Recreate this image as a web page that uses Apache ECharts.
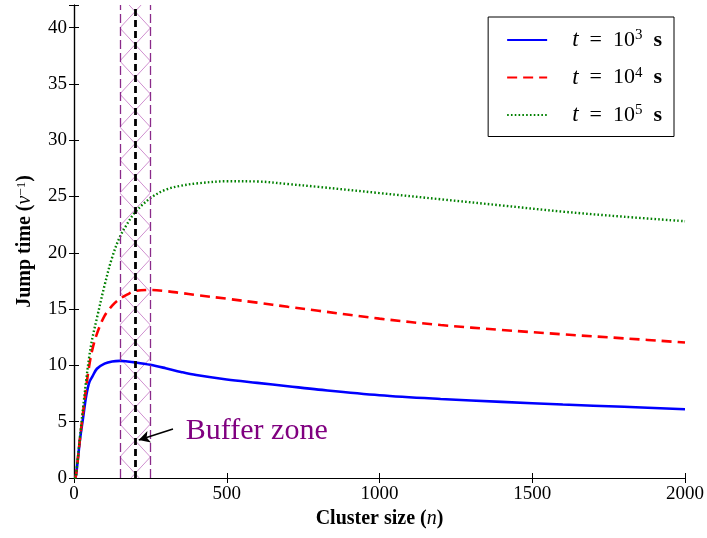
<!DOCTYPE html>
<html>
<head>
<meta charset="utf-8">
<script src="https://cdn.jsdelivr.net/npm/echarts@6/dist/echarts.min.js"></script>
<style>html,body{margin:0;padding:0;background:#fff}#c{width:707px;height:538px}</style>
</head>
<body>
<div id="c"></div>
<script>
const nValues = [0,5,10,20,30,40,50,60,75,100,125,150,175,200,250,300,350,400,500,600,700,800,1000,1200,1400,1600,1800,2000];
const jumpT3 = [0,0.05,1.0,3.5,5.4,7.3,8.5,9.0,9.7,10.15,10.35,10.4,10.35,10.27,10.05,9.75,9.42,9.14,8.75,8.45,8.15,7.85,7.35,7.02,6.76,6.52,6.32,6.11];
const jumpT4 = [0,0.05,1.0,3.6,5.9,8.1,10.0,11.4,12.8,14.4,15.3,15.9,16.3,16.6,16.7,16.6,16.43,16.25,15.92,15.57,15.2,14.85,14.15,13.58,13.15,12.76,12.4,12.03];
const jumpT5 = [0,0.05,1.1,3.8,6.3,8.7,10.8,12.4,14.2,17.1,19.6,21.4,22.6,23.6,24.85,25.6,25.95,26.15,26.35,26.33,26.1,25.85,25.3,24.75,24.2,23.65,23.2,22.8];
const seriesNames = ['t = 10^3 s','t = 10^4 s','t = 10^5 s'];
const seriesExps = ['3','4','5'];
const xTicks = [0,500,1000,1500,2000];
const yTicks = [0,5,10,15,20,25,30,35,40];
const bufferZone = [150, 250];
const bufferCenter = 200;
const arrowFrom = [324, 4.35];
const arrowTo = [212, 3.37];
const bufferLabelAt = [366, 4.2];

const FONT = 'Liberation Serif';
const pairs = ys => nValues.map((n,i)=>[n, ys[i]]);

const chart = echarts.init(document.getElementById('c'), null, {renderer:'canvas'});

function axisCommon(extra){
  return Object.assign({
    type:'value',
    axisLine:{show:true, lineStyle:{color:'#000', width:1.2}},
    axisTick:{show:true, inside:true, length:5, lineStyle:{color:'#000', width:1}},
    splitLine:{show:false},
  }, extra);
}

function buildOption(hatch){
  const lineBase = {type:'line', smooth:0.35, symbol:'none', showSymbol:false, z:3, animation:false};
  const arrowStyle = {color:'#000', width:1.6, type:'solid', curveness:-0.5};
  return {
    animation:false,
    backgroundColor:'#fff',
    grid:{left:74, right:21, top:5, bottom:60},
    xAxis:[
      axisCommon({min:0, max:2000, interval:500, position:'bottom',
        axisLabel:{color:'#000', fontFamily:FONT, fontSize:19, margin:7,
          formatter:v=> xTicks.includes(v)? String(v):''},
        name:'Cluster size ({i|n})', nameLocation:'middle', nameGap:24,
        nameTextStyle:{color:'#000', fontFamily:FONT, fontSize:20, fontWeight:'bold',
          rich:{i:{fontFamily:FONT, fontSize:20, fontStyle:'italic', fontWeight:'normal', color:'#000'}}}
      }),
      axisCommon({min:0, max:2000, interval:500, position:'top', axisLabel:{show:false}})
    ],
    yAxis:[
      axisCommon({min:0, max:42, interval:5, position:'left',
        axisLabel:{color:'#000', fontFamily:FONT, fontSize:19, margin:7,
          formatter:v=> yTicks.includes(v)? String(v):''},
        name:'Jump time ({i|ν}{s|−1})', nameLocation:'middle', nameGap:39,
        nameTextStyle:{color:'#000', fontFamily:FONT, fontSize:20, fontWeight:'bold',
          rich:{i:{fontFamily:FONT, fontSize:20, fontStyle:'italic', fontWeight:'normal', color:'#000'},
                s:{fontFamily:FONT, fontSize:13, fontWeight:'normal', color:'#000', verticalAlign:'top', lineHeight:14}}}
      }),
      axisCommon({min:0, max:42, interval:5, position:'right', axisLabel:{show:false}})
    ],
    legend:{
      data:seriesNames, orient:'vertical', right:33, top:17,
      itemWidth:40, itemHeight:14, itemGap:14,
      padding:[11,12,10,18],
      borderColor:'#000', borderWidth:1, borderRadius:0,
      backgroundColor:'#fff',
      itemStyle:{opacity:0},
      formatter:name=>{
        const e = seriesExps[seriesNames.indexOf(name)];
        return '{i|t}{r|  =  10}{s|'+e+'}{r|  }{b|s}';
      },
      textStyle:{color:'#000', fontFamily:FONT, fontSize:22,
        rich:{
          i:{fontFamily:FONT, fontSize:23, fontStyle:'italic', color:'#000', padding:[0,0,0,20], lineHeight:24},
          r:{fontFamily:FONT, fontSize:22, color:'#000', lineHeight:24},
          s:{fontFamily:FONT, fontSize:15, color:'#000', verticalAlign:'top', lineHeight:14},
          b:{fontFamily:FONT, fontSize:22, fontWeight:'bold', color:'#000', lineHeight:24}
        }}
    },
    series:[
      {type:'line', name:'buffer', data:[], z:1, silent:true,
        markArea:{silent:true, itemStyle:{color: hatch || 'rgba(0,0,0,0)', borderWidth:0},
          data:[[{xAxis:bufferZone[0]},{xAxis:bufferZone[1]}]]}
      },
      Object.assign({}, lineBase, {name:seriesNames[0], data:pairs(jumpT3),
        lineStyle:{color:'#0000ff', width:2.6}, itemStyle:{color:'#0000ff'}}),
      Object.assign({}, lineBase, {name:seriesNames[1], data:pairs(jumpT4),
        lineStyle:{color:'#ff0000', width:2.6, type:[10,6], cap:'butt'}, itemStyle:{color:'#ff0000'}}),
      Object.assign({}, lineBase, {name:seriesNames[2], data:pairs(jumpT5),
        lineStyle:{color:'#008000', width:2.4, type:[1.6,2.2], cap:'butt'}, itemStyle:{color:'#008000'}}),
      {type:'line', name:'markers', data:[], z:4, silent:true,
        markLine:{silent:true, symbol:['none','none'], label:{show:false},
          data:[
            {xAxis:bufferZone[0], lineStyle:{color:'#8a2a8a', width:1.3, type:[9,4]}},
            {xAxis:bufferZone[1], lineStyle:{color:'#8a2a8a', width:1.3, type:[9,4]}},
            {xAxis:bufferCenter, lineStyle:{color:'#000', width:2.8, type:[7,4]}}
          ]}
      },
      {type:'line', name:'arrow', data:[], z:5, silent:true,
        markLine:{silent:true, symbol:['none','arrow'], symbolSize:[9,11], label:{show:false},
          lineStyle:arrowStyle,
          data:[[{coord:arrowFrom, lineStyle:arrowStyle},{coord:arrowTo, lineStyle:arrowStyle}]]},
        markPoint:{silent:true, symbol:'circle', symbolSize:0,
          data:[{coord:bufferLabelAt}],
          label:{show:true, formatter:'Buffer zone', position:'right', distance:0,
            color:'#800080', fontFamily:FONT, fontSize:30}}
      }
    ]
  };
}

chart.setOption(buildOption(null));
const xa = chart.convertToPixel({xAxisIndex:0}, bufferZone[0]);
const xb = chart.convertToPixel({xAxisIndex:0}, bufferZone[1]);
const H = 33, y0 = 28 % H;
const cv = document.createElement('canvas');
cv.width = 707; cv.height = H;
const ctx = cv.getContext('2d');
ctx.strokeStyle = '#cf8fcf'; ctx.lineWidth = 1;
for (let k=-2;k<=1;k++){
  ctx.beginPath(); ctx.moveTo(xa, y0+k*H); ctx.lineTo(xb, y0+(k+1)*H); ctx.stroke();
  ctx.beginPath(); ctx.moveTo(xb, y0+k*H); ctx.lineTo(xa, y0+(k+1)*H); ctx.stroke();
}
chart.setOption(buildOption({image:cv, repeat:'repeat'}));
</script>
</body>
</html>
